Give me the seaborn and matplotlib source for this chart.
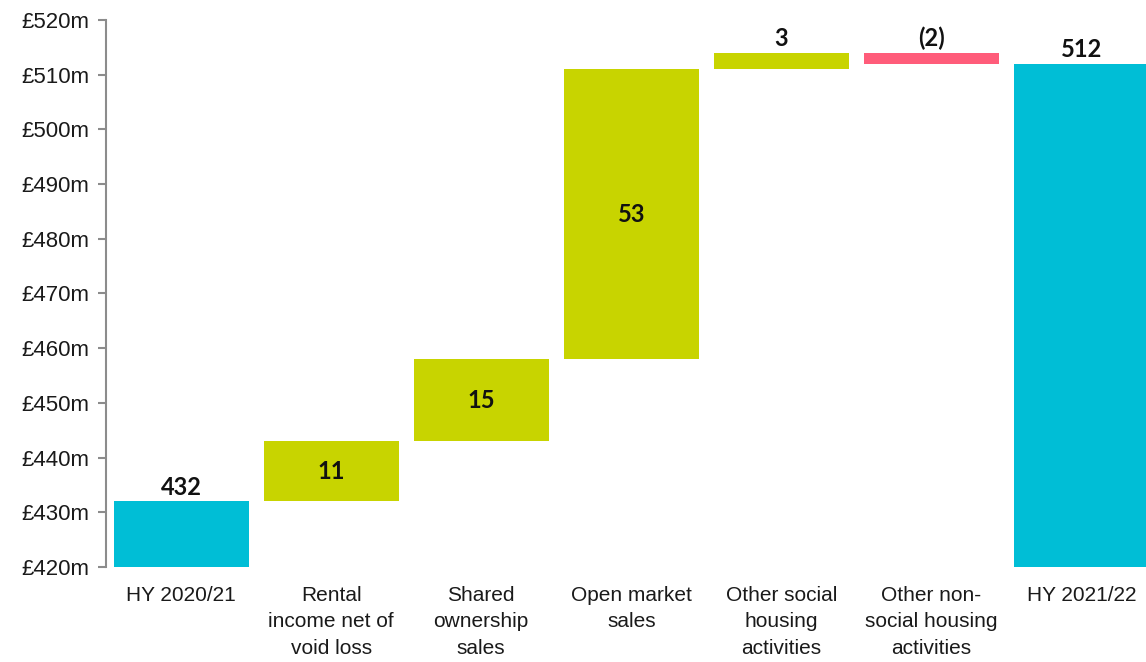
import matplotlib
matplotlib.use("Agg")
import matplotlib.pyplot as plt
import seaborn as sns
import numpy as np
import pandas as pd

categories = ["HY 2020/21", "Rental\nincome net of\nvoid loss", "Shared\nownership\nsales",
              "Open market\nsales", "Other social\nhousing\nactivities",
              "Other non-\nsocial housing\nactivities", "HY 2021/22"]
start_value = 432
changes = [11, 15, 53, 3, -2]
end_value = 512
value_labels = ["432", "11", "15", "53", "3", "(2)", "512"]
y_ticks = list(range(420, 521, 10))

c_total = "#00BED6"
c_up = "#C8D400"
c_down = "#FF5C7A"

# waterfall geometry
bottoms, heights, colors = [], [], []
base = 420
bottoms.append(base); heights.append(start_value - base); colors.append(c_total)
running = start_value
for ch in changes:
    if ch >= 0:
        bottoms.append(running); heights.append(ch); colors.append(c_up)
    else:
        bottoms.append(running + ch); heights.append(-ch); colors.append(c_down)
    running += ch
bottoms.append(base); heights.append(end_value - base); colors.append(c_total)

df = pd.DataFrame({"cat": categories, "height": heights})

sns.set_style("white")
plt.rcParams["font.family"] = ["Liberation Sans", "DejaVu Sans"]

fig = plt.figure(figsize=(11.46, 6.62), dpi=100)
ax = fig.add_axes([0.0925, 0.1435, 0.9075, 0.8265])

sns.barplot(data=df, x="cat", y="height", bottom=bottoms, width=0.9,
            color=c_up, ax=ax, linewidth=0, saturation=1)
for p, c in zip(ax.patches, colors):
    p.set_facecolor(c)
    p.set_edgecolor("none")

ax.set_ylim(420, 520)
ax.set_xlim(-0.5, 6.43)
ax.set_yticks(y_ticks)
ax.set_yticklabels([f"£{v}m" for v in y_ticks], fontsize=16, color="#1a1a1a")
ax.set_xticklabels(categories, fontsize=15, color="#1a1a1a", linespacing=1.5)
ax.set_xlabel("")
ax.set_ylabel("")

for s in ["top", "right", "bottom"]:
    ax.spines[s].set_visible(False)
ax.spines["left"].set_color("#8c8c8c")
ax.spines["left"].set_linewidth(1.5)
ax.tick_params(axis="y", which="major", left=True, length=6, width=1.5, color="#8c8c8c", pad=6)
ax.tick_params(axis="x", bottom=False, pad=10)

for i, (b, h, lab) in enumerate(zip(bottoms, heights, value_labels)):
    inside = lab in ("11", "15", "53")
    if inside:
        ax.text(i, b + h / 2, lab, ha="center", va="center", fontsize=17,
                fontweight="bold", family="Lato", color="#111111")
    else:
        ax.annotate(lab, (i, b + h), xytext=(0, 2), textcoords="offset points",
                    ha="center", va="bottom", fontsize=17, fontweight="bold",
                    family="Lato", color="#111111", annotation_clip=False)

fig.savefig("out.png", dpi=100)
